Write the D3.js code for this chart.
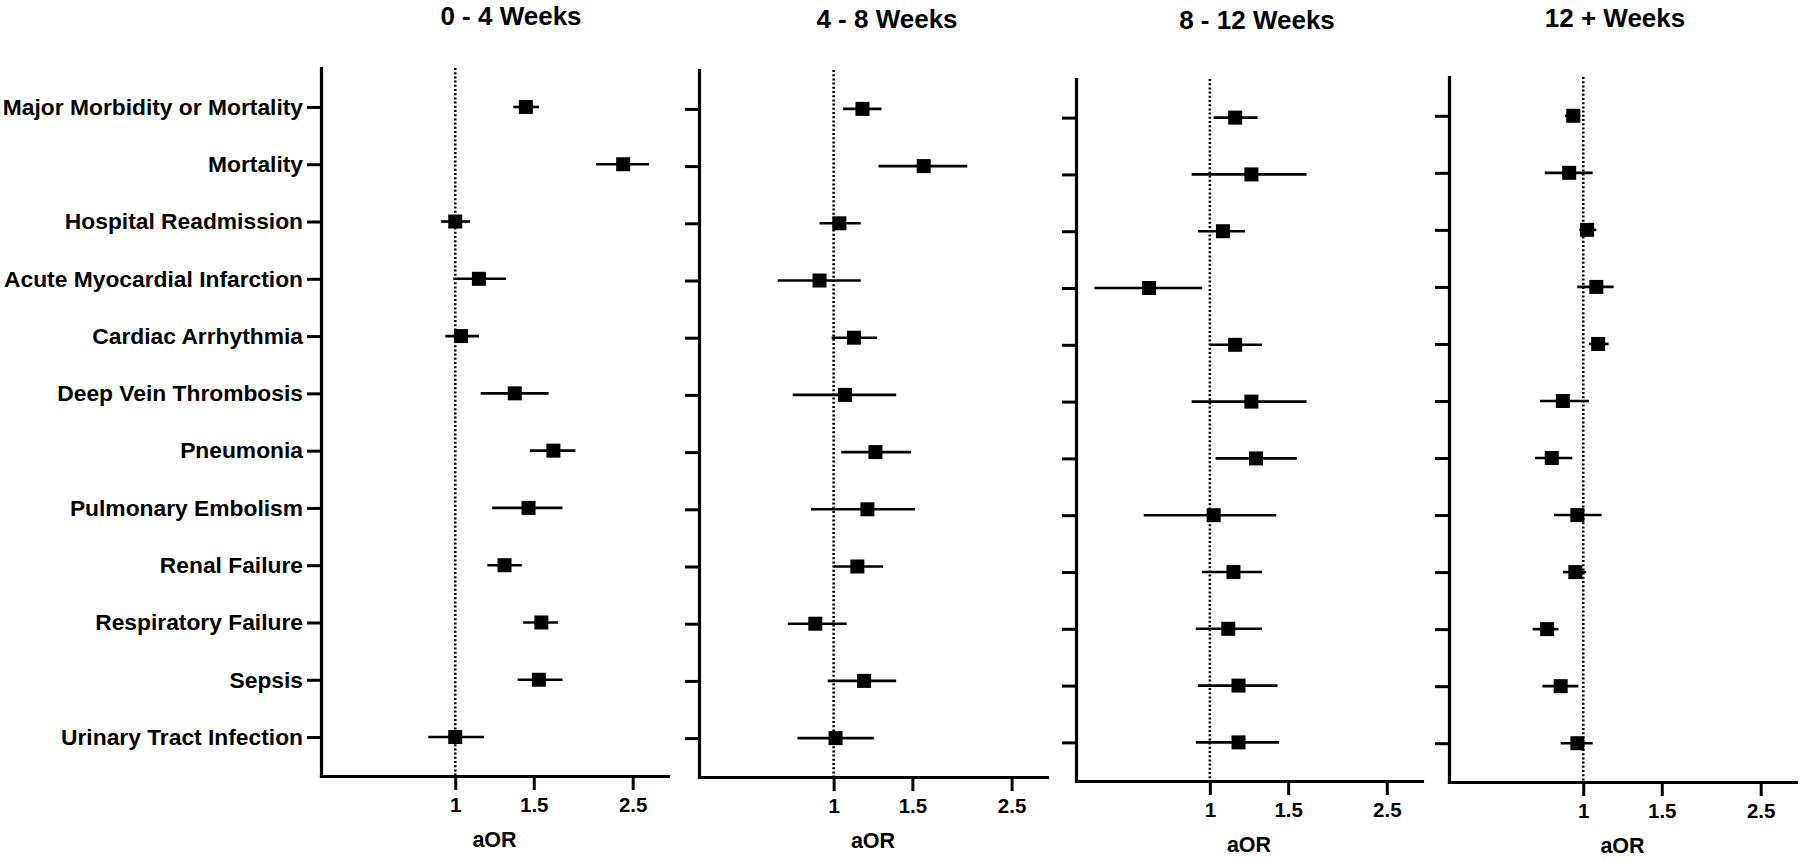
<!DOCTYPE html>
<html>
<head>
<meta charset="utf-8">
<script src="https://cdn.jsdelivr.net/npm/d3@7"></script>
<style>
  html, body { margin: 0; padding: 0; background: #fff; }
  svg { display: block; }
  text { font-family: "Liberation Sans", Arial, Helvetica, sans-serif; font-weight: bold; fill: #000; }
</style>
</head>
<body>
<svg id="chart" width="1800" height="861"></svg>
<script>
// ---------- DATA ----------
const categories = [
  "Major Morbidity or Mortality", "Mortality", "Hospital Readmission",
  "Acute Myocardial Infarction", "Cardiac Arrhythmia", "Deep Vein Thrombosis",
  "Pneumonia", "Pulmonary Embolism", "Renal Failure", "Respiratory Failure",
  "Sepsis", "Urinary Tract Infection"
];
const periods = ["0 - 4 Weeks", "4 - 8 Weeks", "8 - 12 Weeks", "12 + Weeks"];
const xTickValues = [1, 1.5, 2.5];
const xTickLabels = ["1", "1.5", "2.5"];
const xAxisTitle = "aOR";

const aor_0_4  = [1.44, 2.38, 1.00, 1.13, 1.03, 1.36, 1.66, 1.46, 1.29, 1.56, 1.54, 1.00];
const low_0_4  = [1.35, 2.07, 0.93, 0.99, 0.95, 1.14, 1.47, 1.21, 1.18, 1.42, 1.38, 0.87];
const high_0_4 = [1.54, 2.72, 1.08, 1.30, 1.13, 1.62, 1.86, 1.74, 1.41, 1.70, 1.74, 1.16];

const aor_4_8  = [1.16, 1.59, 1.03, 0.93, 1.11, 1.06, 1.24, 1.19, 1.13, 0.91, 1.17, 1.01];
const low_4_8  = [1.05, 1.26, 0.93, 0.75, 0.99, 0.81, 1.04, 0.89, 1.00, 0.79, 0.97, 0.83];
const high_4_8 = [1.28, 1.99, 1.15, 1.15, 1.25, 1.38, 1.49, 1.52, 1.29, 1.07, 1.38, 1.23];

const aor_8_12  = [1.14, 1.24, 1.07, 0.73, 1.14, 1.24, 1.27, 1.02, 1.13, 1.10, 1.16, 1.16];
const low_8_12  = [1.02, 0.91, 0.94, 0.55, 1.00, 0.91, 1.03, 0.71, 0.96, 0.93, 0.94, 0.93];
const high_8_12 = [1.28, 1.65, 1.20, 0.96, 1.31, 1.65, 1.57, 1.41, 1.31, 1.31, 1.42, 1.43];

const aor_12p  = [0.95, 0.93, 1.02, 1.07, 1.08, 0.90, 0.85, 0.97, 0.96, 0.83, 0.89, 0.97];
const low_12p  = [0.91, 0.82, 0.98, 0.97, 1.03, 0.80, 0.78, 0.86, 0.90, 0.77, 0.81, 0.89];
const high_12p = [0.985, 1.05, 1.07, 1.17, 1.14, 1.03, 0.945, 1.10, 1.015, 0.88, 0.975, 1.05];

const seriesEst  = [aor_0_4, aor_4_8, aor_8_12, aor_12p];
const seriesLow  = [low_0_4, low_4_8, low_8_12, low_12p];
const seriesHigh = [high_0_4, high_4_8, high_8_12, high_12p];

// ---------- LAYOUT ----------
const layout = [
  { left: 321,  right: 668,  top: 68, bottom: 776, titleX: 511,  titleY: 25 },
  { left: 699,  right: 1047, top: 70, bottom: 777, titleX: 887,  titleY: 28 },
  { left: 1076, right: 1422, top: 79, bottom: 781, titleX: 1257, titleY: 29 },
  { left: 1449, right: 1796, top: 77, bottom: 782, titleX: 1615, titleY: 27 }
];
const xDomain = [0.5, 3];

const svg = d3.select("#chart");

periods.forEach((title, p) => {
  const L = layout[p];
  const x = d3.scaleLog().domain(xDomain).range([L.left, L.right]);
  const y = d3.scalePoint().domain(categories).range([L.top, L.bottom]).padding(0.68);

  const g = svg.append("g");

  // title
  g.append("text")
    .attr("x", L.titleX).attr("y", L.titleY)
    .attr("text-anchor", "middle")
    .style("font-size", "26px")
    .text(title);

  // reference line at 1
  g.append("line")
    .attr("x1", x(1)).attr("x2", x(1))
    .attr("y1", L.top).attr("y2", L.bottom)
    .attr("stroke", "#000").attr("stroke-width", 2.6)
    .attr("stroke-dasharray", "2,2.2");

  // y axis
  const yAxis = d3.axisLeft(y).tickSize(14).tickSizeOuter(0).tickPadding(4)
    .tickFormat(p === 0 ? (d => d) : () => "");
  const ya = g.append("g").attr("transform", `translate(${L.left},0)`).call(yAxis);
  ya.attr("font-family", null).attr("font-size", null);
  ya.select(".domain").attr("stroke-width", 3.2).attr("stroke-linecap", "square");
  ya.selectAll(".tick line").attr("stroke-width", 3);
  ya.selectAll(".tick text").style("font-size", "22.8px");

  // x axis
  const xAxis = d3.axisBottom(x).tickValues(xTickValues).tickSize(14).tickSizeOuter(0).tickPadding(7)
    .tickFormat((d, i) => xTickLabels[i]);
  const xa = g.append("g").attr("transform", `translate(0,${L.bottom})`).call(xAxis);
  xa.attr("font-family", null).attr("font-size", null);
  xa.select(".domain").attr("stroke-width", 3.2).attr("stroke-linecap", "square");
  xa.selectAll(".tick line").attr("stroke-width", 3);
  xa.selectAll(".tick text").style("font-size", "20.5px");

  // x axis title
  g.append("text")
    .attr("x", (L.left + L.right) / 2).attr("y", L.bottom + 71)
    .attr("text-anchor", "middle")
    .style("font-size", "21.5px")
    .text(xAxisTitle);

  // error bars and points
  const rows = categories.map((c, i) => ({ c, est: seriesEst[p][i], lo: seriesLow[p][i], hi: seriesHigh[p][i] }));
  g.selectAll("line.ci").data(rows).join("line")
    .attr("class", "ci")
    .attr("x1", d => x(d.lo)).attr("x2", d => x(d.hi))
    .attr("y1", d => y(d.c)).attr("y2", d => y(d.c))
    .attr("stroke", "#000").attr("stroke-width", 2.6);
  const s = 14;
  g.selectAll("rect.pt").data(rows).join("rect")
    .attr("class", "pt")
    .attr("x", d => x(d.est) - s / 2).attr("y", d => y(d.c) - s / 2)
    .attr("width", s).attr("height", s)
    .attr("fill", "#000");
});
</script>
</body>
</html>
